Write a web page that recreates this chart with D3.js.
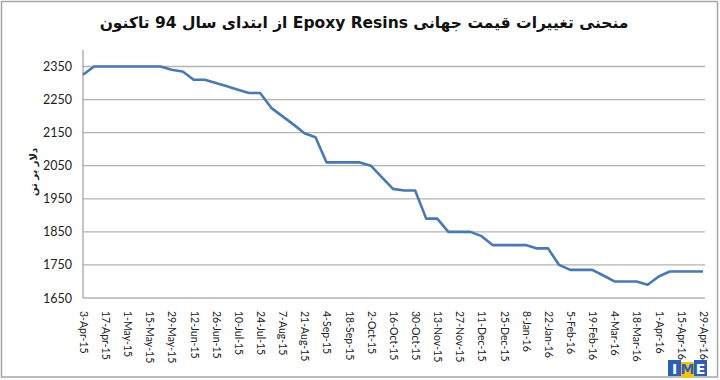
<!DOCTYPE html>
<html>
<head>
<meta charset="utf-8">
<script src="https://cdn.jsdelivr.net/npm/d3@7"></script>
<style>
  html, body { margin: 0; padding: 0; background: #fff; }
  svg { display: block; }
</style>
</head>
<body>
<svg id="chart" width="720" height="380"></svg>
<script>
// ---- data ----
const titleText = "منحنی تغییرات قیمت جهانی Epoxy Resins از ابتدای سال 94 تاکنون";
const yTitle = "دلار بر تن";
const tickLabels = ["3-Apr-15","17-Apr-15","1-May-15","15-May-15","29-May-15","12-Jun-15","26-Jun-15","10-Jul-15","24-Jul-15","7-Aug-15","21-Aug-15","4-Sep-15","18-Sep-15","2-Oct-15","16-Oct-15","30-Oct-15","13-Nov-15","27-Nov-15","11-Dec-15","25-Dec-15","8-Jan-16","22-Jan-16","5-Feb-16","19-Feb-16","4-Mar-16","18-Mar-16","1-Apr-16","15-Apr-16","29-Apr-16"];
// weekly prices (USD/ton), 3-Apr-15 .. 29-Apr-16
const prices = [2325,2350,2350,2350,2350,2350,2350,2350,2340,2335,
                2310,2310,2300,2290,2280,2270,2270,2225,2200,2175,
                2148,2136,2060,2060,2060,2060,2050,2015,1980,1975,
                1975,1890,1890,1850,1850,1850,1837,1810,1810,1810,
                1810,1800,1800,1750,1735,1735,1735,1718,1700,1700,
                1700,1690,1715,1730,1730,1730,1730];
const yTicks = [1650,1750,1850,1950,2050,2150,2250,2350];

// ---- layout ----
const svg = d3.select("#chart");
const mLeft = 83, mRight = 703, mTop = 66.5, mBottom = 298;

svg.append("rect").attr("x", 1.5).attr("y", 1.5).attr("width", 716).attr("height", 375.5)
   .attr("fill", "#fff").attr("stroke", "#a6a6a6").attr("stroke-width", 1.5);

const x = d3.scaleLinear().domain([0, prices.length - 1]).range([mLeft, mRight]);
const y = d3.scaleLinear().domain([1650, 2350]).range([mBottom, mTop]);

// gridlines
svg.append("g").selectAll("line").data(yTicks).join("line")
   .attr("x1", mLeft).attr("x2", mRight + 2)
   .attr("y1", d => y(d)).attr("y2", d => y(d))
   .attr("stroke", "#b3b3b3").attr("stroke-width", 1.3);

// y axis line
svg.append("line").attr("x1", mLeft).attr("x2", mLeft).attr("y1", 50).attr("y2", mBottom)
   .attr("stroke", "#a6a6a6").attr("stroke-width", 1.3);

// y axis labels
const yAxis = d3.axisLeft(y).tickValues(yTicks).tickFormat(d3.format("d")).tickSize(0).tickPadding(11);
const gy = svg.append("g").attr("transform", `translate(${mLeft},0)`).call(yAxis);
gy.select(".domain").remove();
gy.selectAll("text").attr("font-family", "Lato, 'Open Sans', sans-serif")
  .attr("font-size", 12.5).attr("fill", "#222");

// x axis labels (rotated)
const xAxis = d3.axisBottom(x).tickValues(tickLabels.map((d, i) => i * 2))
   .tickFormat((d) => tickLabels[d / 2]).tickSize(0);
const gx = svg.append("g").attr("transform", `translate(0,${mBottom})`).call(xAxis);
gx.select(".domain").remove();
gx.selectAll("text")
  .attr("font-family", "Lato, 'Open Sans', sans-serif")
  .attr("font-size", 10.5).attr("fill", "#222")
  .attr("text-anchor", "start")
  .attr("transform", "rotate(90)")
  .attr("x", 13).attr("y", 0).attr("dy", "0.35em");

// line
const line = d3.line().x((d, i) => x(i)).y(d => y(d));
svg.append("path").datum(prices).attr("d", line)
   .attr("fill", "none").attr("stroke", "#4a78b0").attr("stroke-width", 2.6)
   .attr("stroke-linejoin", "round");

// title
svg.append("text").attr("x", 364).attr("y", 28).attr("text-anchor", "middle")
   .attr("direction", "rtl")
   .attr("font-family", "'DejaVu Sans', sans-serif").attr("font-weight", "bold")
   .attr("font-size", 15.5).attr("fill", "#111").text(titleText);

// y title
svg.append("text").attr("transform", "translate(37,172) rotate(-90)")
   .attr("text-anchor", "middle").attr("direction", "rtl")
   .attr("font-family", "'DejaVu Sans', sans-serif").attr("font-weight", "bold")
   .attr("font-size", 10).attr("fill", "#222").text(yTitle);

// IME logo
const logo = svg.append("g").attr("transform", "translate(668,360)");
const letters = [{t: "I", c: "#2d5fb5", f: "#fff"}, {t: "M", c: "#f2c21b", f: "#2d5fb5"}, {t: "E", c: "#2d5fb5", f: "#fff"}];
logo.selectAll("rect").data(letters).join("rect")
   .attr("x", (d, i) => i * 13).attr("y", (d, i) => i === 1 ? 2 : 0)
   .attr("width", 13).attr("height", 16).attr("fill", d => d.c);
logo.selectAll("text").data(letters).join("text")
   .attr("x", (d, i) => i * 13 + 6.5).attr("y", 14).attr("text-anchor", "middle")
   .attr("font-family", "'DejaVu Sans', sans-serif").attr("font-weight", "bold")
   .attr("font-size", 14).attr("fill", d => d.f).text(d => d.t);
</script>
</body>
</html>
